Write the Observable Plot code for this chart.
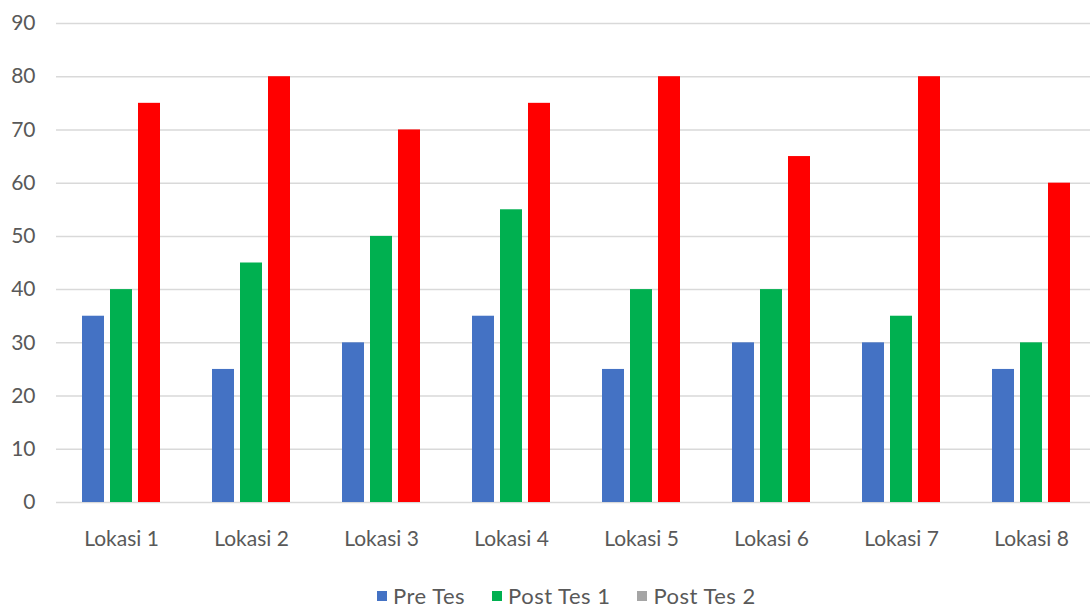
<!DOCTYPE html>
<html><head><meta charset="utf-8">
<script src="https://cdn.jsdelivr.net/npm/d3@7"></script>
<script src="https://cdn.jsdelivr.net/npm/@observablehq/plot@0.6"></script>
<style>
html,body{margin:0;padding:0;background:#fff;overflow:hidden;width:1090px;height:608px;position:relative}
#chart svg{display:block;overflow:hidden}
#legend{position:absolute;left:377px;top:582px;display:flex;align-items:center;font-family:Lato,sans-serif;font-size:22px;letter-spacing:0.5px;color:#595959;white-space:nowrap}
#legend .item{display:flex;align-items:center;margin-right:27px}
#legend .sw{width:10px;height:10px;margin-right:6px}
</style></head><body>
<div id="chart"></div>
<div id="legend"></div>
<script>
const locations = ["Lokasi 1","Lokasi 2","Lokasi 3","Lokasi 4","Lokasi 5","Lokasi 6","Lokasi 7","Lokasi 8"];
const series = ["Pre Tes","Post Tes 1","Post Tes 2"];
const preTes   = [35,25,30,35,25,30,30,25];
const postTes1 = [40,45,50,55,40,40,35,30];
const postTes2 = [75,80,70,75,80,65,80,60];
const barColors = ["#4472C4","#00B050","#FF0000"];
const legendColors = ["#4472C4","#00B050","#A5A5A5"];
const yTicks = [0,10,20,30,40,50,60,70,80,90];

const values = [preTes, postTes1, postTes2];
const data = [];
locations.forEach((loc, i) => {
  series.forEach((s, j) => data.push({location: loc, series: s, value: values[j][i]}));
});

const chart = Plot.plot({
  width: 1090, height: 575,
  marginLeft: 56, marginRight: -6, marginTop: 23, marginBottom: 73,
  fx: {domain: locations, paddingInner: 0.385, paddingOuter: 0.19, label: null, axis: null},
  x: {domain: series, paddingInner: 0.2, paddingOuter: 0, axis: null},
  y: {domain: [0, 90], axis: null},
  color: {domain: series, range: barColors},
  style: {fontFamily: "Lato, sans-serif", fontSize: "21px", color: "#595959", background: "#fff"},
  marks: [
    Plot.ruleY(yTicks, {stroke: "#d9d9d9", strokeWidth: 1.5, insetLeft: -25, insetRight: -25}),
    Plot.barY(data, {fx: "location", x: "series", y: "value", fill: "series"}),
    Plot.axisY({ticks: yTicks, tickSize: 0, tickPadding: 46, label: null, anchor: "left", fill: "#595959"}),
    Plot.axisFx({tickSize: 0, tickPadding: 29, label: null, anchor: "bottom", fill: "#595959", fontSize: 21, style: "letter-spacing:0.7px"})
  ]
});
document.getElementById("chart").appendChild(chart);

const legend = document.getElementById("legend");
series.forEach((s, i) => {
  const item = document.createElement("div");
  item.className = "item";
  const sw = document.createElement("span");
  sw.className = "sw";
  sw.style.background = legendColors[i];
  const t = document.createElement("span");
  t.textContent = s;
  item.appendChild(sw); item.appendChild(t);
  legend.appendChild(item);
});
</script>
</body></html>
